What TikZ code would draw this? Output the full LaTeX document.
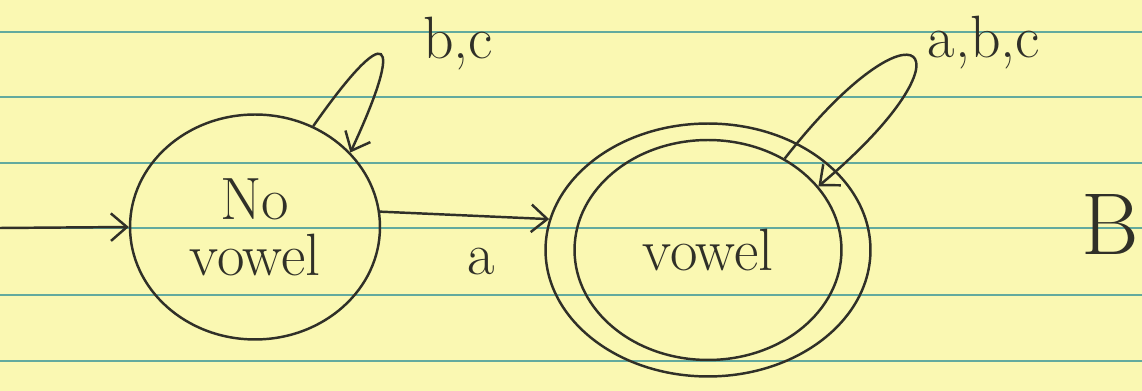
\documentclass[tikz,border=0pt]{standalone}
\usepackage{xcolor}
\usepackage{tikz}
\usetikzlibrary{arrows.meta,shapes.geometric,positioning}
\definecolor{paperYellow}{RGB}{250,248,178}
\definecolor{ruleBlue}{RGB}{98,170,158}
\definecolor{inkDark}{RGB}{48,48,40}
\tikzset{
  stateNode/.style={
    ellipse, draw=inkDark, line width=1.4pt, inner sep=0pt,
    text=inkDark, align=center, font=\fontsize{34}{32}\selectfont
  },
  inkArrow/.style={-{Straight Barb[length=0.32cm,width=0.55cm]},
    line width=1.4pt, draw=inkDark}
}

\begin{document}
\begin{tikzpicture}[x=0.02cm, y=0.02cm,
        lbl/.style={inner sep=2pt, text=inkDark, font=\fontsize{34}{32}\selectfont},
        rule/.style={draw=ruleBlue, line width=1.1pt}]
        % paper
        \fill[paperYellow] (0,0) rectangle (1142,391);
        \useasboundingbox (0,0) rectangle (1142,391);
        \foreach \ry in {30,96,163,228,294,359}
          \draw[rule] (0,\ry) -- (1142,\ry);
        % states
        \node[stateNode, minimum width=5cm, minimum height=4.5cm] (nv) at (255,164) {No\\vowel};
        \node[stateNode, minimum width=6.5cm, minimum height=5.06cm] (vw) at (708,141) {};
        \node[stateNode, minimum width=5.34cm, minimum height=4.4cm] (vwIn) at (vw) {vowel};
        \coordinate (init) at (0,163);
        % transitions
        \draw[inkArrow] (init) -- (nv.west);
        \draw[inkArrow] (nv.7) -- node[lbl, pos=0.6, below=0.55cm] {a} (vw.169);
        \draw[inkArrow] (nv.60) to[out=55,in=65,distance=2.62cm]
              node[lbl, pos=0.5, anchor=west, xshift=0.76cm, yshift=0.22cm] {b,c} (nv.38);
        \draw[inkArrow] (vwIn.50) to[out=52,in=40,distance=4.3cm]
              node[lbl, pos=0.5, anchor=west, xshift=0.2cm, yshift=0.3cm] {a,b,c} (vwIn.30);
        \node[font=\fontsize{50}{50}\selectfont, text=inkDark] (mark) at (1110,166) {B};
      \end{tikzpicture}
\end{document}
